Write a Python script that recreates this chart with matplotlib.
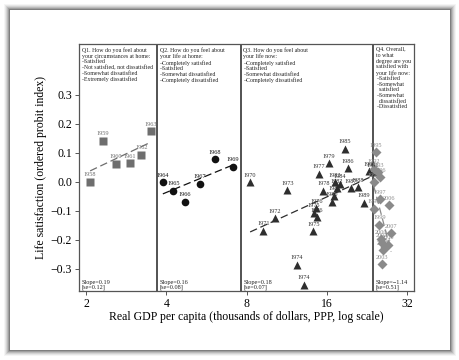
"""
Life satisfaction vs real GDP per capita, four survey questions (Japan, 1958-2007).
"""

import matplotlib
matplotlib.use("Agg")
import matplotlib.pyplot as plt
import numpy as np
from matplotlib.patches import Rectangle

plt.rcParams["font.family"] = ["Liberation Serif", "DejaVu Serif"]

# ──────────────────────────────────────────────────────────────────────────────
# Data (GDP in thousands of dollars, satisfaction in ordered probit index)
# ──────────────────────────────────────────────────────────────────────────────

q1_years = ["1958", "1959", "1960", "1961", "1962", "1963"]
q1_gdp = [2.07, 2.31, 2.59, 2.91, 3.22, 3.50]
q1_ls = [0.000, 0.142, 0.062, 0.064, 0.094, 0.175]

q2_years = ["1964", "1965", "1966", "1967", "1968", "1969"]
q2_gdp = [3.88, 4.25, 4.68, 5.35, 6.09, 7.10]
q2_ls = [-0.002, -0.030, -0.068, -0.006, 0.078, 0.052]

q3_years = ["1970", "1971", "1972", "1973", "1974", "1974", "1975", "1975",
            "1976", "1976", "1977", "1978", "1979", "1980", "1981", "1982",
            "1983", "1984", "1985", "1986", "1987", "1988", "1989", "1990",
            "1991"]
q3_gdp = [8.25, 9.26, 10.23, 11.39, 12.34, 13.15, 14.24, 14.35,
          14.62, 14.71, 14.93, 15.53, 16.27, 16.70, 17.08, 17.50,
          17.20, 17.90, 18.73, 19.20, 19.70, 20.97, 22.00, 23.10,
          23.80]
q3_ls = [-0.001, -0.168, -0.125, -0.028, -0.285, -0.354, -0.170, -0.107,
         -0.090, -0.122, 0.028, -0.030, 0.064, -0.069, -0.048, -0.021,
         -0.001, -0.007, 0.114, 0.047, -0.021, -0.019, -0.072, 0.036,
         0.033]

q4_years = ["1992", "1993", "1994", "1995", "1996", "1997", "1998", "1999",
            "2000", "2001", "2002", "2003", "2004", "2005", "2006", "2007"]
q4_gdp = [24.0, 24.9, 24.0, 24.5, 25.3, 25.3, 24.0, 25.2,
          25.5, 25.8, 26.1, 25.7, 26.4, 27.2, 27.5, 27.9]
q4_ls = [0.045, 0.033, -0.001, 0.102, 0.016, -0.059, -0.093, -0.148,
         -0.197, -0.209, -0.235, -0.283, -0.226, -0.217, -0.081, -0.177]

q_texts = [
    "Q1. How do you feel about\nyour circumstances at home:\n–Satisfied\n"
    "–Not satisfied, not dissatisfied\n–Somewhat dissatisfied\n"
    "–Extremely dissatisfied",
    "Q2. How do you feel about\nyour life at home:\n–Completely satisfied\n"
    "–Satisfied\n–Somewhat dissatisfied\n–Completely dissatisfied",
    "Q3. How do you feel about\nyour life now:\n–Completely satisfied\n"
    "–Satisfied\n–Somewhat dissatisfied\n–Completely dissatisfied",
    "Q4. Overall,\nto what\ndegree are you\nsatisfied with\nyour life now:\n"
    "–Satisfied\n–Somewhat\n  satisfied\n–Somewhat\n  dissatisfied\n"
    "–Dissatisfied",
]
slope_texts = ["Slope=0.19\n[se=0.12]", "Slope=0.16\n[se=0.08]",
               "Slope=0.18\n[se=0.07]", "Slope=−1.14\n[se=0.51]"]

# panel boundaries (GDP) between the four questions
dividers = [3.69, 7.61, 23.9]
panel_left = [1.88, 3.69, 7.61, 23.9]

# ──────────────────────────────────────────────────────────────────────────────
# Plot
# ──────────────────────────────────────────────────────────────────────────────

fig = plt.figure(figsize=(4.6, 3.6), dpi=100)
fig.patch.set_facecolor("white")

# paper card with a soft shadow
for i, a in enumerate([0.04, 0.06, 0.08, 0.11, 0.15, 0.2]):
    pad = (6 - i) / 460
    padv = (6 - i) / 360
    fig.patches.append(Rectangle((10 / 460 - pad, 10 / 360 - padv),
                                 440 / 460 + 2 * pad, 340 / 360 + 2 * padv,
                                 transform=fig.transFigure, facecolor="black",
                                 alpha=a, edgecolor="none", zorder=0))
fig.patches.append(Rectangle((10 / 460, 10 / 360), 440 / 460, 340 / 360,
                             transform=fig.transFigure, facecolor="white",
                             edgecolor="none", zorder=1))

ax = fig.add_axes([79 / 460, 1 - 291 / 360, 335 / 460, 247 / 360])
ax.set_zorder(5)
ax.set_facecolor("none")
ax.set_xscale("log", base=2)
ax.set_xlim(1.88, 34.0)
ax.set_ylim(-0.376, 0.475)

series = [
    (q1_gdp, q1_ls, q1_years, "s", "#6e6e6e", 5.5),
    (q2_gdp, q2_ls, q2_years, "o", "#111111", 5.5),
    (q3_gdp, q3_ls, q3_years, "^", "#2e2e2e", 5.5),
    (q4_gdp, q4_ls, q4_years, "D", "#8a8a8a", 5.0),
]

for gdp, ls, years, marker, color, ms in series:
    gdp = np.array(gdp)
    ls = np.array(ls)
    # fitted line: satisfaction on ln(GDP)
    b, a = np.polyfit(np.log(gdp), ls, 1)
    xs = np.array([gdp.min(), gdp.max()])
    ax.plot(xs, a + b * np.log(xs), color=color, lw=0.9, ls=(0, (6, 3)),
            zorder=2)
    ax.plot(gdp, ls, marker, color=color, ms=ms, mec="none", zorder=3)
    for x, y, yr in zip(gdp, ls, years):
        ax.annotate(yr, (x, y), xytext=(0, 3.2), textcoords="offset points",
                    ha="center", va="bottom", fontsize=4.5, color=color,
                    zorder=4)

for d in dividers:
    ax.axvline(d, color="#444444", lw=1.3, zorder=1)

for x0, qt, st in zip(panel_left, q_texts, slope_texts):
    ax.annotate(qt, (x0, 0.475), xytext=(1.8, -2.5), textcoords="offset points",
                ha="left", va="top", fontsize=4.2, linespacing=1.15,
                color="#222222")
    ax.annotate(st, (x0, -0.376), xytext=(2, 0.5),
                textcoords="offset points", ha="left", va="bottom",
                fontsize=4.5, linespacing=0.95, color="#222222")

ax.set_xticks([2, 4, 8, 16, 32])
ax.set_xticklabels(["2", "4", "8", "16", "32"])
ax.minorticks_off()
ax.set_yticks([-0.3, -0.2, -0.1, 0.0, 0.1, 0.2, 0.3])
ax.set_yticklabels(["−0.3", "−0.2", "−0.1", "0.0", "0.1", "0.2", "0.3"])
ax.tick_params(labelsize=8.5, length=3, width=0.7, color="#555555", pad=2)

for s in ax.spines.values():
    s.set_color("#555555")
    s.set_linewidth(0.9)

ax.set_xlabel("Real GDP per capita (thousands of dollars, PPP, log scale)",
              fontsize=8.5, labelpad=1)
ax.set_ylabel("Life satisfaction (ordered probit index)", fontsize=8.5)
ax.yaxis.set_label_coords(-0.095, 0.5)

fig.savefig("out.png", dpi=100)
